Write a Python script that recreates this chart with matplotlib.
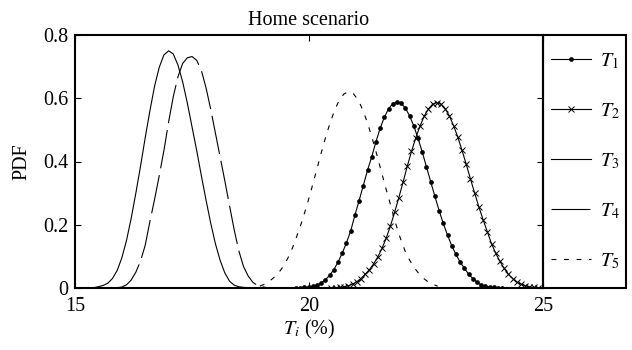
import matplotlib
matplotlib.use("Agg")
import matplotlib.pyplot as plt
from matplotlib.patches import Rectangle

# ---------------- data ----------------
t1_x = [19.72 + 0.09 * i for i in range(50)]
t1_y = [0.001, 0.0015, 0.002, 0.003, 0.005, 0.009, 0.016, 0.026, 0.040, 0.058,
        0.082, 0.110, 0.143, 0.180, 0.230, 0.276, 0.324, 0.372, 0.415, 0.462,
        0.505, 0.540, 0.567, 0.583, 0.589, 0.584, 0.569, 0.544, 0.512, 0.473,
        0.430, 0.383, 0.336, 0.290, 0.245, 0.204, 0.167, 0.134, 0.106, 0.082,
        0.0626, 0.044, 0.030, 0.018, 0.010, 0.006, 0.004, 0.002, 0.001, 0.0005]

t2_x = [20.48 + 0.09 * i for i in range(50)]
t2_y = [0.001, 0.0015, 0.002, 0.004, 0.007, 0.012, 0.020, 0.030, 0.043, 0.058,
        0.076, 0.098, 0.125, 0.158, 0.196, 0.240, 0.286, 0.335, 0.385, 0.432,
        0.474, 0.511, 0.543, 0.566, 0.581, 0.586, 0.581, 0.567, 0.544, 0.513,
        0.477, 0.435, 0.391, 0.345, 0.300, 0.256, 0.216, 0.178, 0.140, 0.110,
        0.084, 0.062, 0.044, 0.030, 0.019, 0.012, 0.007, 0.004, 0.002, 0.001]

t3_x = [15.3, 15.4, 15.5, 15.6, 15.7, 15.8, 15.9, 16.0, 16.1, 16.2, 16.3, 16.4,
        16.5, 16.6, 16.7, 16.8, 16.9, 17.0, 17.1, 17.2, 17.3, 17.4, 17.5, 17.6,
        17.7, 17.8, 17.9, 18.0, 18.1, 18.2, 18.3, 18.4, 18.5, 18.6, 18.7, 18.8]
t3_y = [0.0, 0.001, 0.004, 0.008, 0.015, 0.030, 0.055, 0.095, 0.150, 0.220,
        0.300, 0.385, 0.475, 0.560, 0.638, 0.698, 0.737, 0.750, 0.740, 0.705,
        0.652, 0.585, 0.510, 0.435, 0.355, 0.278, 0.205, 0.140, 0.088, 0.048,
        0.022, 0.009, 0.004, 0.002, 0.001, 0.0]

t4_x = [15.8, 15.9, 16.0, 16.1, 16.2, 16.3, 16.4, 16.5, 16.6, 16.7, 16.8, 16.9,
        17.0, 17.1, 17.2, 17.3, 17.4, 17.5, 17.6, 17.7, 17.8, 17.9, 18.0, 18.1,
        18.2, 18.3, 18.4, 18.5, 18.6, 18.7, 18.8, 18.9, 19.0, 19.1]
t4_y = [0.0, 0.001, 0.003, 0.010, 0.025, 0.050, 0.085, 0.135, 0.210, 0.280,
        0.355, 0.435, 0.525, 0.605, 0.668, 0.710, 0.728, 0.732, 0.720, 0.688,
        0.633, 0.565, 0.490, 0.415, 0.340, 0.262, 0.185, 0.118, 0.068, 0.038,
        0.018, 0.008, 0.004, 0.001]

t5_x = [18.95 + 0.1 * i for i in range(39)]
t5_y = [0.006, 0.012, 0.021, 0.033, 0.048, 0.068, 0.095, 0.128, 0.168, 0.211,
        0.259, 0.311, 0.366, 0.421, 0.474, 0.522, 0.563, 0.595, 0.614, 0.621,
        0.614, 0.595, 0.563, 0.522, 0.474, 0.421, 0.366, 0.311, 0.259, 0.205,
        0.158, 0.118, 0.088, 0.064, 0.045, 0.030, 0.019, 0.011, 0.006]

series_labels = ["$T_1$", "$T_2$", "$T_3$", "$T_4$", "$T_5$"]
x_ticks = [15, 20, 25]
x_tick_labels = ["15", "20", "25"]
y_ticks = [0, 0.2, 0.4, 0.6, 0.8]
y_tick_labels = ["0", "0.2", "0.4", "0.6", "0.8"]
title_text = "Home scenario"
x_label = "$T_i$ (%)"
y_label = "PDF"

# ---------------- style ----------------
plt.rcParams["font.family"] = ["Liberation Serif", "DejaVu Serif"]
plt.rcParams["mathtext.fontset"] = "stix"
plt.rcParams["lines.scale_dashes"] = False

FS = 14.5
fig = plt.figure(figsize=(6.32, 3.5), dpi=100)
ax = fig.add_axes([75 / 632, 62 / 350, 468 / 632, 253 / 350])

lw = 0.8
l1, = ax.plot(t1_x, t1_y, color="black", lw=lw, marker="o", markersize=3.4,
              markeredgewidth=0)
l2, = ax.plot(t2_x, t2_y, color="black", lw=lw, marker="x", markersize=4.8,
              markeredgewidth=0.7)
l3, = ax.plot(t3_x, t3_y, color="black", lw=lw)
l4, = ax.plot(t4_x, t4_y, color="black", lw=lw, linestyle=(0, (28, 5)))
l5, = ax.plot(t5_x, t5_y, color="black", lw=lw, linestyle=(0, (3.5, 5.5)))

ax.set_xlim(15, 25)
ax.set_ylim(0, 0.8)
ax.set_xticks(x_ticks)
ax.set_xticklabels(x_tick_labels)
ax.set_yticks(y_ticks)
ax.set_yticklabels(y_tick_labels)
ax.tick_params(direction="in", length=4, width=0.8, top=True, right=True,
               labelsize=FS)
ax.tick_params(axis="x", pad=6.5)
ax.tick_params(axis="y", pad=5)
for s in ax.spines.values():
    s.set_linewidth(1.5)

ax.set_title(title_text, fontsize=FS, pad=7.5)
ax.set_xlabel(x_label, fontsize=FS, labelpad=1.5)
ax.set_ylabel(y_label, fontsize=FS, labelpad=8)

# legend box outside the axes, same height as axes
box_w = (626 - 543) / 468
ax.add_patch(Rectangle((1.0, 0.0), box_w, 1.0, transform=ax.transAxes,
                       fill=False, lw=1.5, edgecolor="black", clip_on=False))
leg = ax.legend([l1, l2, l3, l4, l5], series_labels, loc="center left",
                bbox_to_anchor=(1.0, 0.5), frameon=False, fontsize=FS,
                handlelength=2.0, handletextpad=0.45, borderaxespad=0,
                borderpad=0.4, labelspacing=1.5, markerscale=1.0)

fig.savefig("out.png", dpi=100)
